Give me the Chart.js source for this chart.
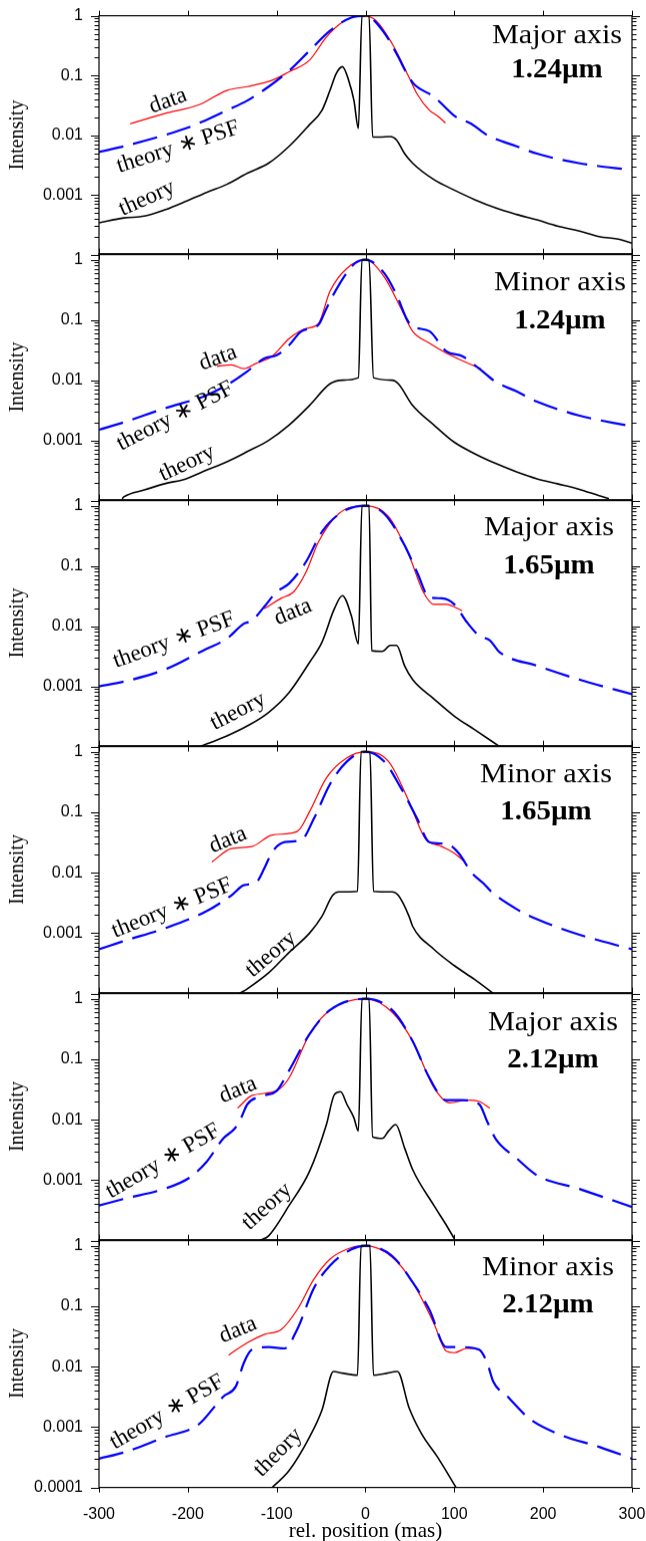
<!DOCTYPE html>
<html lang="en">
<head>
<meta charset="UTF-8">
<title>Intensity profiles along major and minor axis</title>
<script src="https://cdn.jsdelivr.net/npm/chart.js"></script>
<style>
  body { margin: 0; background: #fff; overflow: hidden; }
  #figure { position: relative; width: 646px; height: 1541px; overflow: hidden; }
  .panel { position: absolute; left: 0; width: 646px; }
</style>
</head>
<body>
<div id="figure"></div>
<script>
// ---- data (x in mas, intensity normalised) ----
const xTicks = [-300, -200, -100, 0, 100, 200, 300];
const yTickLabels = ['1', '0.1', '0.01', '0.001', '0.0001'];
const panelTitles = ['Major axis', 'Minor axis', 'Major axis', 'Minor axis', 'Major axis', 'Minor axis'];
const wavelengths = ['1.24\u00b5m', '1.24\u00b5m', '1.65\u00b5m', '1.65\u00b5m', '2.12\u00b5m', '2.12\u00b5m'];
const curveNames = ['theory', 'theory \u2217 PSF', 'data'];

// panel 1: major axis 1.24um
const p1TheoryX = [-300, -272, -249, -226, -202, -179, -156, -133, -109, -86, -63, -49, -40, -33, -26, -19, -13, -8, -4, 4, 8, 16, 28, 35, 44, 53, 77, 100, 123, 147, 170, 193, 216, 240, 263, 286, 300];
const p1TheoryY = [3.4e-4, 4.1e-4, 4.4e-4, 5.6e-4, 7.8e-4, 1.1e-3, 1.5e-3, 2.3e-3, 3.4e-3, 6.5e-3, 0.015, 0.026, 0.056, 0.107, 0.14, 0.083, 0.038, 0.013, 1, 1, 0.0093, 0.0093, 0.0095, 0.0083, 0.0049, 0.0034, 0.0018, 0.0012, 8.3e-4, 6e-4, 4.7e-4, 3.8e-4, 3e-4, 2.5e-4, 2e-4, 1.8e-4, 1.55e-4];
const p1PsfX = [-300, -272, -226, -202, -179, -156, -133, -109, -86, -63, -40, -16, 0, 21, 35, 49, 56, 77, 91, 100, 119, 137, 170, 193, 240, 300];
const p1PsfY = [0.0052, 0.0065, 0.01, 0.013, 0.018, 0.026, 0.038, 0.065, 0.12, 0.26, 0.56, 0.93, 1, 0.52, 0.23, 0.093, 0.068, 0.044, 0.028, 0.021, 0.0155, 0.01, 0.0065, 0.0049, 0.0034, 0.0026];
const p1DataX = [-265, -226, -188, -156, -133, -105, -86, -63, -44, -26, -7, 7, 30, 49, 58, 72, 81, 90];
const p1DataY = [0.0155, 0.023, 0.032, 0.056, 0.065, 0.083, 0.115, 0.18, 0.44, 0.78, 1, 0.93, 0.34, 0.093, 0.049, 0.026, 0.021, 0.016];

// panel 2: minor axis 1.24um
const p2TheoryX = [-274, -272, -249, -226, -202, -179, -156, -133, -109, -86, -63, -40, -26, -8, -4, 4, 9, 30, 37, 53, 77, 100, 123, 147, 170, 193, 216, 240, 263, 274];
const p2TheoryY = [1.07e-4, 1.15e-4, 1.5e-4, 1.9e-4, 2.3e-4, 3.2e-4, 4.4e-4, 6.5e-4, 0.001, 0.0018, 0.0038, 0.0087, 0.01, 0.011, 1, 1, 0.011, 0.01, 0.0087, 0.0038, 0.0018, 9.3e-4, 6e-4, 4.1e-4, 3e-4, 2.3e-4, 1.9e-4, 1.55e-4, 1.2e-4, 1.07e-4];
const p2PsfX = [-300, -272, -226, -179, -156, -133, -114, -100, -86, -72, -53, -44, -30, -12, 0, 21, 35, 47, 53, 72, 91, 109, 128, 147, 170, 193, 240, 300];
const p2PsfY = [0.0015, 0.002, 0.0034, 0.0056, 0.0083, 0.014, 0.023, 0.026, 0.038, 0.065, 0.083, 0.155, 0.38, 0.87, 1, 0.6, 0.26, 0.1, 0.078, 0.065, 0.03, 0.025, 0.0155, 0.0093, 0.0065, 0.0044, 0.0026, 0.0017];
const p2DataX = [-167, -151, -137, -123, -105, -86, -67, -53, -40, -21, 0, 21, 40, 53, 72, 91, 109, 130];
const p2DataY = [0.017, 0.018, 0.0155, 0.019, 0.025, 0.049, 0.072, 0.087, 0.3, 0.72, 1, 0.52, 0.155, 0.065, 0.041, 0.028, 0.021, 0.0155];

// panel 3: major axis 1.65um
const p3TheoryX = [-186, -179, -156, -133, -109, -86, -63, -49, -35, -26, -16, -8, -4, 4, 7, 19, 28, 35, 44, 53, 77, 100, 123, 151];
const p3TheoryY = [1e-4, 1.1e-4, 1.5e-4, 2.2e-4, 3.7e-4, 7.9e-4, 0.0025, 0.0054, 0.0195, 0.032, 0.015, 0.0051, 1, 1, 0.0039, 0.0038, 0.0048, 0.0048, 0.0022, 0.0013, 6.2e-4, 3.2e-4, 1.9e-4, 1e-4];
const p3PsfX = [-300, -272, -226, -179, -156, -137, -128, -114, -100, -86, -67, -49, -26, 0, 21, 44, 58, 72, 86, 100, 114, 128, 140, 151, 193, 240, 300];
const p3PsfY = [0.001, 0.0012, 0.0019, 0.0042, 0.0062, 0.011, 0.0123, 0.021, 0.037, 0.051, 0.117, 0.37, 0.79, 1, 0.74, 0.22, 0.079, 0.03, 0.029, 0.023, 0.0117, 0.0069, 0.0058, 0.0037, 0.0022, 0.0013, 7.4e-4];
const p3DataX = [-114, -95, -81, -67, -53, -30, 0, 26, 49, 65, 77, 91, 109];
const p3DataY = [0.0195, 0.029, 0.037, 0.079, 0.25, 0.74, 1, 0.66, 0.15, 0.037, 0.023, 0.023, 0.018];

// panel 4: minor axis 1.65um
const p4TheoryX = [-142, -133, -109, -86, -63, -49, -37, -30, -9, -5, 5, 9, 30, 37, 49, 53, 77, 100, 123, 144];
const p4TheoryY = [1e-4, 1.2e-4, 2.2e-4, 4.8e-4, 0.001, 0.0019, 0.0042, 0.0048, 0.0049, 1, 1, 0.0049, 0.0048, 0.0042, 0.0019, 0.0013, 5.4e-4, 2.9e-4, 1.7e-4, 1e-4];
const p4PsfX = [-300, -272, -226, -179, -151, -137, -123, -114, -105, -91, -72, -58, -40, -21, 0, 21, 40, 58, 72, 91, 105, 119, 133, 142, 170, 193, 240, 300];
const p4PsfY = [5.4e-4, 7.4e-4, 0.0012, 0.0023, 0.0042, 0.0062, 0.0069, 0.0117, 0.022, 0.032, 0.035, 0.079, 0.29, 0.69, 1, 0.69, 0.25, 0.079, 0.032, 0.03, 0.021, 0.0102, 0.0066, 0.0048, 0.0025, 0.0017, 9.5e-4, 5.4e-4];
const p4DataX = [-173, -151, -128, -105, -77, -63, -44, -21, 0, 26, 49, 67, 86, 100, 112];
const p4DataY = [0.015, 0.025, 0.027, 0.042, 0.048, 0.102, 0.37, 0.79, 1, 0.69, 0.15, 0.037, 0.027, 0.021, 0.015];

// panel 5: major axis 2.12um
const p5TheoryX = [-119, -109, -86, -63, -44, -35, -28, -21, -13, -8, -4, 4, 8, 19, 26, 34, 44, 53, 77, 91, 100];
const p5TheoryY = [1e-4, 1.2e-4, 3.8e-4, 0.0014, 0.0083, 0.026, 0.029, 0.018, 0.0107, 0.0065, 1, 1, 0.0052, 0.0049, 0.0065, 0.0083, 0.0034, 0.0015, 3.8e-4, 1.8e-4, 1.07e-4];
const p5PsfX = [-300, -272, -226, -198, -179, -160, -147, -140, -133, -114, -100, -86, -63, -40, 0, 30, 53, 72, 91, 109, 128, 137, 147, 170, 193, 240, 300];
const p5PsfY = [3.8e-4, 4.9e-4, 7.2e-4, 0.0011, 0.002, 0.0049, 0.0072, 0.0107, 0.018, 0.025, 0.03, 0.065, 0.26, 0.65, 1, 0.65, 0.2, 0.049, 0.021, 0.021, 0.018, 0.0093, 0.0047, 0.0023, 0.0012, 7.2e-4, 3.6e-4];
const p5DataX = [-144, -128, -100, -86, -63, -40, 0, 30, 53, 77, 95, 114, 128, 140];
const p5DataY = [0.0155, 0.025, 0.03, 0.049, 0.26, 0.65, 1, 0.6, 0.2, 0.034, 0.019, 0.021, 0.02, 0.0155];

// panel 6: minor axis 2.12um
const p6TheoryX = [-105, -86, -63, -49, -36, -26, -9, -5, 5, 9, 21, 36, 49, 63, 81, 102];
const p6TheoryY = [1e-4, 1.9e-4, 6.8e-4, 0.0019, 0.0083, 0.0078, 0.0072, 1, 1, 0.0072, 0.0076, 0.0083, 0.0021, 7.8e-4, 3.2e-4, 1e-4];
const p6PsfX = [-300, -272, -226, -188, -160, -146, -137, -128, -109, -91, -77, -58, -40, -16, 0, 30, 53, 72, 91, 109, 128, 137, 144, 160, 184, 216, 263, 300];
const p6PsfY = [3e-4, 3.8e-4, 6.8e-4, 0.0011, 0.0032, 0.0047, 0.0115, 0.019, 0.021, 0.02, 0.041, 0.2, 0.47, 0.87, 1, 0.68, 0.25, 0.087, 0.021, 0.021, 0.019, 0.0115, 0.0056, 0.0032, 0.0014, 7.8e-4, 4.7e-4, 3e-4];
const p6DataX = [-154, -133, -114, -95, -77, -58, -40, -16, 0, 30, 53, 77, 91, 100, 114, 128, 133];
const p6DataY = [0.0155, 0.025, 0.034, 0.041, 0.087, 0.28, 0.6, 0.93, 1, 0.65, 0.25, 0.052, 0.018, 0.017, 0.02, 0.019, 0.0155];

// ---- layout ----
const plotLeft = 99, plotRight = 632;
const panelTop = [16, 254, 500, 746, 993, 1240];
const panelBottom = [254, 500, 746, 993, 1240, 1487];
const yMax = [1, 1.26, 1.26, 1.26, 1.26, 1.26];
// title centre x, title baseline / wavelength baseline below panel top
const titleX = [557, 560, 549, 546, 553, 548];
const titleDy = [[27, 61], [36, 74], [35, 73], [36, 73], [37, 74], [35, 72]];
// curve label centres (x, y below panel top, angle deg) for theory, psf, data
const labelPos = [
  [[147, 182, -24], [178, 131, -18], [168, 85, -20]],
  [[187, 209, -25], [175, 162, -27], [218, 104, -20]],
  [[238, 211, -27], [174, 140, -20], [293, 112, -22]],
  [[271, 208, -40], [172, 162, -22], [228, 94, -22]],
  [[267, 213, -42], [163, 168, -30], [238, 97, -22]],
  [[278, 212, -45], [167, 172, -30], [238, 90, -22]]
];

const serif = '"Liberation Serif", "Times New Roman", serif';
const sans = '"Liberation Sans", Arial, sans-serif';

const panels = [
  [p1TheoryX, p1TheoryY, p1PsfX, p1PsfY, p1DataX, p1DataY],
  [p2TheoryX, p2TheoryY, p2PsfX, p2PsfY, p2DataX, p2DataY],
  [p3TheoryX, p3TheoryY, p3PsfX, p3PsfY, p3DataX, p3DataY],
  [p4TheoryX, p4TheoryY, p4PsfX, p4PsfY, p4DataX, p4DataY],
  [p5TheoryX, p5TheoryY, p5PsfX, p5PsfY, p5DataX, p5DataY],
  [p6TheoryX, p6TheoryY, p6PsfX, p6PsfY, p6DataX, p6DataY]
];

function pts(xs, ys) {
  return xs.map((x, i) => ({ x: x, y: ys[i] }));
}

function stretchedText(ctx, text, x, y, sx) {
  ctx.save();
  ctx.translate(x, y);
  ctx.scale(sx, 1);
  ctx.fillText(text, 0, 0);
  ctx.restore();
}

// frame, outward ticks and text labels
const framePlugin = {
  id: 'frame',
  afterDraw(chart) {
    const ctx = chart.ctx;
    const a = chart.chartArea;
    const xs = chart.scales.x, ys = chart.scales.y;
    const idx = chart.options.plugins.frame.index;
    ctx.save();
    ctx.strokeStyle = '#000';
    ctx.lineWidth = 1.2;
    ctx.strokeRect(a.left, a.top, a.right - a.left, a.bottom - a.top);
    ctx.lineWidth = 1;
    ctx.beginPath();
    ys.ticks.forEach(t => {
      const v = t.value;
      const e = Math.floor(Math.log10(v) + 1e-9);
      const s = v / Math.pow(10, e);
      if (Math.abs(s - Math.round(s)) > 1e-6) return;
      const py = Math.round(ys.getPixelForValue(v)) + 0.5;
      if (py < a.top - 1 || py > a.bottom + 1) return;
      const len = Math.round(s) === 1 ? 8 : 4.5;
      ctx.moveTo(a.left - len, py); ctx.lineTo(a.left, py);
      ctx.moveTo(a.right, py); ctx.lineTo(a.right + len, py);
    });
    xTicks.forEach(v => {
      const px = Math.round(xs.getPixelForValue(v)) + 0.5;
      ctx.moveTo(px, a.top - 5); ctx.lineTo(px, a.top);
      ctx.moveTo(px, a.bottom); ctx.lineTo(px, a.bottom + 5);
    });
    ctx.stroke();

    // panel titles
    const top = a.top;
    const cx = a.left + titleX[idx] - plotLeft;
    ctx.fillStyle = '#000';
    ctx.textAlign = 'center';
    ctx.textBaseline = 'alphabetic';
    ctx.font = '27px ' + serif;
    stretchedText(ctx, panelTitles[idx], cx, top + titleDy[idx][0], 1.12);
    ctx.font = 'bold 27px ' + serif;
    stretchedText(ctx, wavelengths[idx], cx, top + titleDy[idx][1], 1.07);

    // curve labels
    ctx.font = '23px ' + serif;
    ctx.textBaseline = 'middle';
    labelPos[idx].forEach((p, k) => {
      ctx.save();
      ctx.translate(a.left + p[0] - plotLeft, top + p[1]);
      ctx.rotate(p[2] * Math.PI / 180);
      ctx.fillText(curveNames[k], 0, 0);
      ctx.restore();
    });
    ctx.restore();
  }
};

const figure = document.getElementById('figure');

panels.forEach((d, i) => {
  const last = i === panels.length - 1;
  const padTop = 12;
  const padBottom = last ? 54 : 12;
  const holder = document.createElement('div');
  holder.className = 'panel';
  holder.style.top = (panelTop[i] - padTop) + 'px';
  holder.style.height = (panelBottom[i] - panelTop[i] + padTop + padBottom) + 'px';
  holder.style.width = '646px';
  const canvas = document.createElement('canvas');
  holder.appendChild(canvas);
  figure.appendChild(holder);

  const xScale = {
    type: 'linear',
    min: -300,
    max: 300,
    display: last,
    grid: { display: false, drawTicks: false },
    border: { display: false },
    ticks: {
      stepSize: 100,
      padding: 17,
      color: '#000',
      font: { family: sans, size: 16 },
      maxRotation: 0
    },
    title: {
      display: true,
      text: 'rel. position (mas)',
      color: '#000',
      font: { family: serif, size: 21, lineHeight: 1 },
      padding: { top: 0, bottom: 0 }
    }
  };
  if (last) xScale.afterFit = scale => { scale.height = 54; };

  const chart = new Chart(canvas, {
    type: 'line',
    data: {
      datasets: [
        {
          label: 'theory',
          data: pts(d[0], d[1]),
          borderColor: '#000000',
          borderWidth: 1.6,
          pointRadius: 0,
          cubicInterpolationMode: 'monotone'
        },
        {
          label: 'theory * PSF',
          data: pts(d[2], d[3]),
          borderColor: '#0000ff',
          borderWidth: 2.2,
          borderDash: [25, 10],
          pointRadius: 0,
          cubicInterpolationMode: 'monotone'
        },
        {
          label: 'data',
          data: pts(d[4], d[5]),
          borderColor: '#ff0000',
          borderWidth: 1.2,
          pointRadius: 0,
          cubicInterpolationMode: 'monotone'
        }
      ]
    },
    options: {
      responsive: true,
      maintainAspectRatio: false,
      animation: false,
      events: [],
      layout: { padding: { left: 0, right: 14, top: padTop, bottom: last ? 0 : padBottom } },
      plugins: {
        legend: { display: false },
        tooltip: { enabled: false },
        frame: { index: i }
      },
      scales: {
        x: xScale,
        y: {
          type: 'logarithmic',
          min: 1e-4,
          max: yMax[i],
          grid: { display: false, drawTicks: false },
          border: { display: false },
          ticks: {
            autoSkip: false,
            padding: 16,
            color: '#000',
            font: { family: sans, size: 16 },
            callback(v) {
              const k = Math.round(-Math.log10(v));
              if (Math.abs(-Math.log10(v) - k) > 1e-6) return '';
              if (k === 4 && !last) return '';
              return yTickLabels[k] || '';
            }
          },
          title: {
            display: true,
            text: 'Intensity',
            color: '#000',
            font: { family: serif, size: 20, lineHeight: 1.2 },
            padding: { top: 6, bottom: 0 }
          },
          afterFit(scale) { scale.width = 99; }
        }
      }
    },
    plugins: [framePlugin]
  });

  // line the plot area up with the panel box
  let a = chart.chartArea;
  const h = parseFloat(holder.style.height) + (panelBottom[i] - panelTop[i]) - (a.bottom - a.top);
  const w = 646 + (plotRight - plotLeft) - (a.right - a.left);
  holder.style.height = h + 'px';
  holder.style.width = w + 'px';
  chart.resize();
  a = chart.chartArea;
  holder.style.top = (panelTop[i] - a.top) + 'px';
  holder.style.left = (plotLeft - a.left) + 'px';
});
</script>
</body>
</html>
